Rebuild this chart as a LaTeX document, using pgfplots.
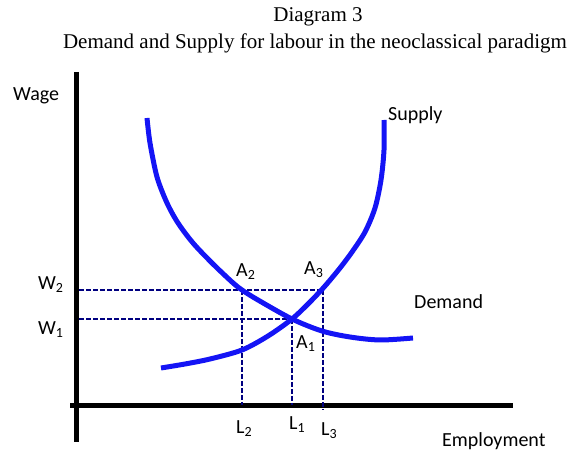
\documentclass[border=0pt]{standalone}
\usepackage{pgfplots}
\pgfplotsset{compat=1.18}
\usepackage{fontspec}
\setmainfont{Liberation Serif}
\newfontfamily\calfont{Carlito}
\definecolor{navy}{RGB}{0,0,128}
\definecolor{cblue}{RGB}{20,20,245}
\begin{document}
\begin{tikzpicture}
\begin{axis}[
  scale only axis, width=573bp, height=452bp,
  xmin=0, xmax=573, ymin=0, ymax=452,
  axis lines=none, clip=false,
]
\coordinate (bl) at (axis cs:0,0);
\coordinate (tr) at (axis cs:573,452);
% axes
\addplot[black, line width=5bp, line cap=butt] coordinates {(76.5,380) (76.5,10)};
\addplot[black, line width=5bp, line cap=butt] coordinates {(70,46.5) (513,46.5)};
% dashed guides
\addplot[navy, line width=2bp, dash pattern=on 5bp off 2bp] coordinates {(79,162) (323,162)};
\addplot[navy, line width=2bp, dash pattern=on 5bp off 2bp] coordinates {(79,133) (292,133)};
\addplot[navy, line width=2bp, dash pattern=on 5bp off 2bp] coordinates {(242,162) (242,47)};
\addplot[navy, line width=2bp, dash pattern=on 5bp off 2bp] coordinates {(292,133) (292,47)};
\addplot[navy, line width=2bp, dash pattern=on 5bp off 2bp] coordinates {(323,162) (323,42)};
% supply
\addplot[cblue, line width=5bp, smooth] coordinates {
 (161,84) (185,88) (210,93) (242,102) (268,116) (292,133) (310,150)
 (325,166) (340,184) (352,200) (365,220) (375,244) (381,272) (384,302) (384,332)};
% demand
\addplot[cblue, line width=5bp, smooth] coordinates {
 (147,334) (150,309) (157,275) (167,249) (178,229) (193,209) (212,189)
 (232,170) (242,162) (258,152) (292,133) (322,121) (350,115) (380,112) (413,114)};
% titles
\node[font=\fontsize{21bp}{24bp}\selectfont, anchor=base] at (axis cs:318,430) {Diagram 3};
\node[font=\fontsize{21bp}{24bp}\selectfont, anchor=base] at (axis cs:315,403) {Demand and Supply for labour in the neoclassical paradigm};
% labels
\node[font=\calfont\fontsize{20bp}{22bp}\selectfont, anchor=west, inner sep=0pt] at (axis cs:13,356) {Wage};
\node[font=\calfont\fontsize{20bp}{22bp}\selectfont, anchor=west, inner sep=0pt] at (axis cs:388,337) {Supply};
\node[font=\calfont\fontsize{20bp}{22bp}\selectfont, anchor=west, inner sep=0pt] at (axis cs:414,150) {Demand};
\node[font=\calfont\fontsize{20bp}{22bp}\selectfont, anchor=west, inner sep=0pt] at (axis cs:442,11) {Employment};
\node[font=\calfont\fontsize{20bp}{22bp}\selectfont, anchor=west, inner sep=0pt] at (axis cs:38,167) {W\textsubscript{2}};
\node[font=\calfont\fontsize{20bp}{22bp}\selectfont, anchor=west, inner sep=0pt] at (axis cs:38,122) {W\textsubscript{1}};
\node[font=\calfont\fontsize{20bp}{22bp}\selectfont, anchor=west, inner sep=0pt] at (axis cs:236,180) {A\textsubscript{2}};
\node[font=\calfont\fontsize{20bp}{22bp}\selectfont, anchor=west, inner sep=0pt] at (axis cs:304,182) {A\textsubscript{3}};
\node[font=\calfont\fontsize{20bp}{22bp}\selectfont, anchor=west, inner sep=0pt] at (axis cs:296,108) {A\textsubscript{1}};
\node[font=\calfont\fontsize{20bp}{22bp}\selectfont, anchor=west, inner sep=0pt] at (axis cs:236,23) {L\textsubscript{2}};
\node[font=\calfont\fontsize{20bp}{22bp}\selectfont, anchor=west, inner sep=0pt] at (axis cs:289,27) {L\textsubscript{1}};
\node[font=\calfont\fontsize{20bp}{22bp}\selectfont, anchor=west, inner sep=0pt] at (axis cs:321,21) {L\textsubscript{3}};
\end{axis}
\pgfresetboundingbox
\path (bl) rectangle (tr);
\end{tikzpicture}
\end{document}
